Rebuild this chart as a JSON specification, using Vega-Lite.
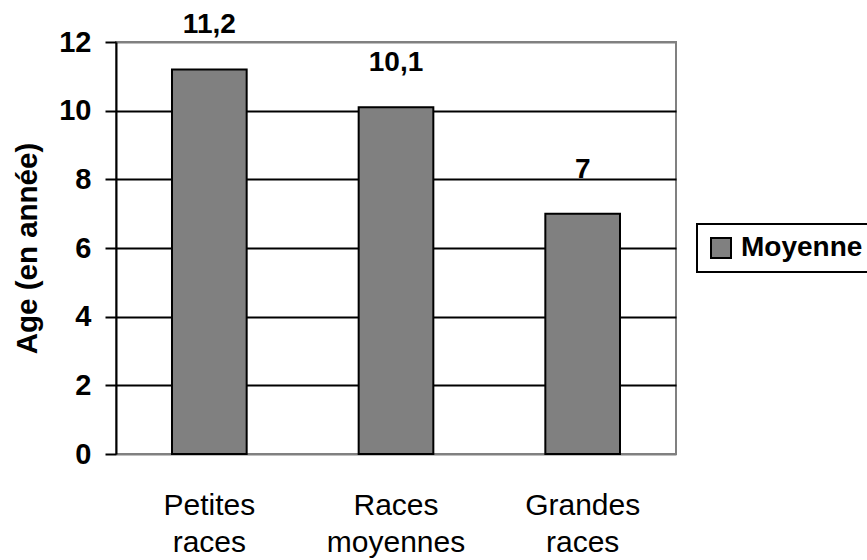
{
  "$schema": "https://vega.github.io/schema/vega-lite/v6.json",
  "width": 560,
  "height": 412,
  "autosize": {"type": "none"},
  "padding": {"left": 116, "top": 42, "right": 191, "bottom": 106},
  "background": "white",
  "data": {
    "values": [
      {"race": "Petites races", "age": 11.2, "serie": "Moyenne"},
      {"race": "Races moyennes", "age": 10.1, "serie": "Moyenne"},
      {"race": "Grandes races", "age": 7, "serie": "Moyenne"}
    ]
  },
  "encoding": {
    "x": {
      "field": "race",
      "type": "nominal",
      "sort": null,
      "scale": {"paddingInner": 0.6, "paddingOuter": 0.3},
      "axis": {
        "title": null,
        "labelAngle": 0,
        "domain": false,
        "ticks": false,
        "labelExpr": "split(datum.label, ' ')",
        "labelFont": "Liberation Sans",
        "labelFontSize": 30,
        "labelFontWeight": "normal",
        "labelColor": "black",
        "labelLineHeight": 37,
        "labelBaseline": "top",
        "labelPadding": 36
      }
    },
    "y": {
      "field": "age",
      "type": "quantitative",
      "scale": {"domain": [0, 12], "nice": false},
      "axis": {
        "title": "Age (en année)",
        "values": [0, 2, 4, 6, 8, 10, 12],
        "grid": true,
        "gridColor": {
          "condition": {"test": "datum.value == 0 || datum.value == 12", "value": "#808080"},
          "value": "black"
        },
        "gridWidth": 2,
        "domainColor": "black",
        "domainWidth": 2,
        "tickColor": "black",
        "tickWidth": 2,
        "tickSize": 11,
        "labelFont": "Liberation Sans",
        "labelFontSize": 29,
        "labelFontWeight": "bold",
        "labelColor": "black",
        "labelPadding": 14,
        "titleFont": "Liberation Sans",
        "titleFontSize": 29.5,
        "titleFontWeight": "bold",
        "titleColor": "black",
        "titlePadding": 16
      }
    }
  },
  "layer": [
    {
      "mark": {"type": "bar", "stroke": "black", "strokeWidth": 2},
      "encoding": {
        "color": {
          "field": "serie",
          "type": "nominal",
          "scale": {"range": ["#808080"]},
          "legend": {
            "title": null,
            "orient": "none",
            "legendX": 581,
            "legendY": 182,
            "symbolType": "square",
            "symbolSize": 400,
            "symbolStrokeColor": "black",
            "symbolStrokeWidth": 2,
            "symbolFillColor": "#808080",
            "labelFont": "Liberation Sans",
            "labelFontSize": 28,
            "labelFontWeight": "bold",
            "labelColor": "black",
            "labelOffset": 6,
            "strokeColor": "black",
            "padding": 10
          }
        }
      }
    },
    {
      "mark": {
        "type": "text",
        "baseline": "alphabetic",
        "dy": -36,
        "font": "Liberation Sans",
        "fontSize": 28,
        "fontWeight": "bold",
        "color": "black"
      },
      "encoding": {
        "text": {"field": "age", "type": "quantitative", "format": "~g"}
      }
    }
  ],
  "config": {
    "locale": {
      "number": {"decimal": ",", "thousands": " ", "grouping": [3], "currency": ["", " €"]}
    },
    "view": {"stroke": "#808080", "strokeWidth": 2},
    "legend": {"strokeWidth": 2}
  }
}
